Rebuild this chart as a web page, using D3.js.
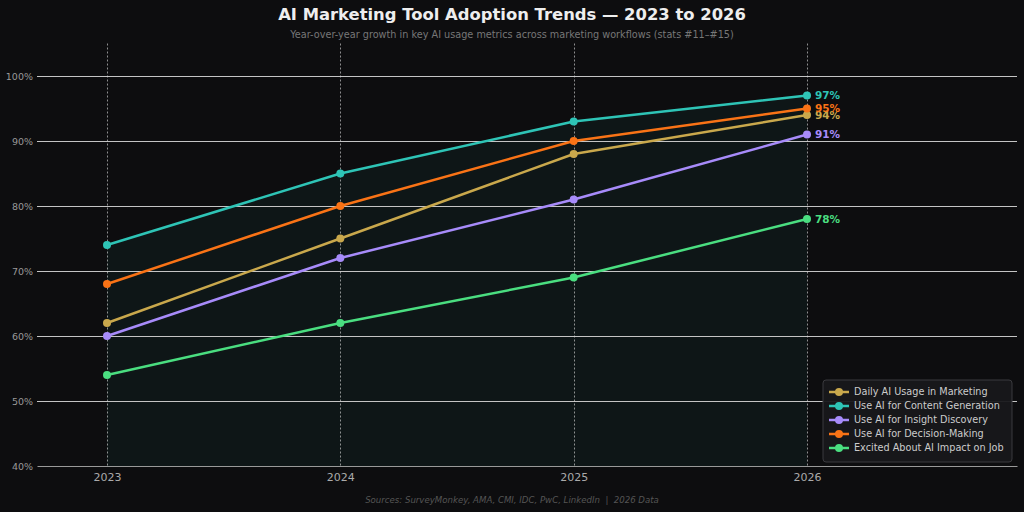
<!DOCTYPE html>
<html><head><meta charset="utf-8">
<script src="https://cdn.jsdelivr.net/npm/d3@7"></script>
<style>
html,body{margin:0;padding:0;background:#0d0d0f;}
svg{display:block;font-family:"DejaVu Sans",sans-serif;}
</style></head>
<body>
<svg id="chart" width="1024" height="512"></svg>
<script>
const years = ["2023","2024","2025","2026"];
const seriesNames = ["Daily AI Usage in Marketing","Use AI for Content Generation","Use AI for Insight Discovery","Use AI for Decision-Making","Excited About AI Impact on Job"];
const seriesColors = ["#c9a84c","#2ec4b6","#a78bfa","#f97316","#4ade80"];
const dailyUsage = [62,75,88,94];
const contentGen = [74,85,93,97];
const insightDisc = [60,72,81,91];
const decisionMaking = [68,80,90,95];
const excitedJob = [54,62,69,78];
const yTicks = [40,50,60,70,80,90,100];

const seriesValues = [dailyUsage, contentGen, insightDisc, decisionMaking, excitedJob];
const series = seriesNames.map((n,i)=>({name:n,color:seriesColors[i],values:seriesValues[i]}));

const svg = d3.select("#chart");
svg.append("rect").attr("width",1024).attr("height",512).attr("fill","#0d0d0f");

const x = d3.scaleLinear().domain([-0.3,3.9]).range([37,1017]);
const y = d3.scaleLinear().domain([40,105]).range([466,43.5]);

// fill under content generation
const area = d3.area().x((d,i)=>x(i)).y0(y(40)).y1(d=>y(d));
svg.append("path").datum(contentGen).attr("d",area).attr("fill","#2ec4b6").attr("fill-opacity",0.05);

// horizontal grid
svg.append("g").selectAll("line").data(yTicks.filter(t=>t>40)).join("line")
  .attr("x1",37).attr("x2",1017).attr("y1",d=>Math.round(y(d))+0.5).attr("y2",d=>Math.round(y(d))+0.5)
  .attr("stroke","#c4c4c4").attr("stroke-width",1.2);

// vertical dashed grid
svg.append("g").selectAll("line").data(years).join("line")
  .attr("x1",(d,i)=>Math.round(x(i))+0.5).attr("x2",(d,i)=>Math.round(x(i))+0.5).attr("y1",y(105)).attr("y2",y(40))
  .attr("stroke","#d8d8d8").attr("stroke-width",0.8).attr("stroke-opacity",0.8).attr("stroke-dasharray","2,2");

// axes
const xAxis = d3.axisBottom(x).tickValues(d3.range(years.length)).tickFormat(i=>years[i]).tickSize(0).tickPadding(7);
const gx = svg.append("g").attr("transform",`translate(0,${y(40)})`).call(xAxis);
gx.select(".domain").attr("stroke","#999").attr("stroke-width",1.2);
gx.selectAll("text").attr("fill","#aaaaaa").attr("font-size",11).attr("font-family","DejaVu Sans");

const yAxis = d3.axisLeft(y).tickValues(yTicks).tickFormat(d=>d+"%").tickSize(0).tickPadding(4);
const gy = svg.append("g").attr("transform",`translate(37,0)`).call(yAxis);
gy.select(".domain").remove();
gy.selectAll("text").attr("fill","#999999").attr("font-size",9.5).attr("font-family","DejaVu Sans");

// lines
const line = d3.line().x((d,i)=>x(i)).y(d=>y(d));
const gl = svg.append("g");
series.forEach(s=>{
  gl.append("path").datum(s.values).attr("d",line).attr("fill","none")
    .attr("stroke",s.color).attr("stroke-width",2.5).attr("stroke-linejoin","round");
  gl.selectAll(null).data(s.values).join("circle")
    .attr("cx",(d,i)=>x(i)).attr("cy",d=>y(d)).attr("r",4).attr("fill",s.color);
  const last = s.values[s.values.length-1];
  gl.append("text").attr("x",x(s.values.length-1)+8).attr("y",y(last)).attr("dy","0.35em")
    .attr("fill",s.color).attr("font-size",10.5).attr("font-weight","bold").text(last+"%");
});

// title
svg.append("text").attr("x",512).attr("y",20).attr("text-anchor","middle").attr("fill","#eeeeee")
  .attr("font-size",16.4).attr("font-weight","bold").text("AI Marketing Tool Adoption Trends — 2023 to 2026");
svg.append("text").attr("x",512).attr("y",38).attr("text-anchor","middle").attr("fill","#777777")
  .attr("font-size",9.7).text("Year-over-year growth in key AI usage metrics across marketing workflows (stats #11–#15)");
svg.append("text").attr("x",512).attr("y",503).attr("text-anchor","middle").attr("fill","#555555")
  .attr("font-size",8.6).attr("font-style","italic").style("white-space","pre")
  .text("Sources: SurveyMonkey, AMA, CMI, IDC, PwC, LinkedIn  |  2026 Data");

// legend
const lg = svg.append("g").attr("transform","translate(823,380)");
lg.append("rect").attr("width",189).attr("height",82).attr("rx",3)
  .attr("fill","#18181b").attr("stroke","#3a3a3e").attr("stroke-width",1).attr("fill-opacity",0.95);
series.forEach((s,i)=>{
  const yy = 12 + i*14;
  lg.append("line").attr("x1",6).attr("x2",26).attr("y1",yy).attr("y2",yy).attr("stroke",s.color).attr("stroke-width",2.5);
  lg.append("circle").attr("cx",16).attr("cy",yy).attr("r",4).attr("fill",s.color);
  lg.append("text").attr("x",31).attr("y",yy).attr("dy","0.35em").attr("fill","#cccccc").attr("font-size",9.7).text(s.name);
});
</script>
</body></html>
